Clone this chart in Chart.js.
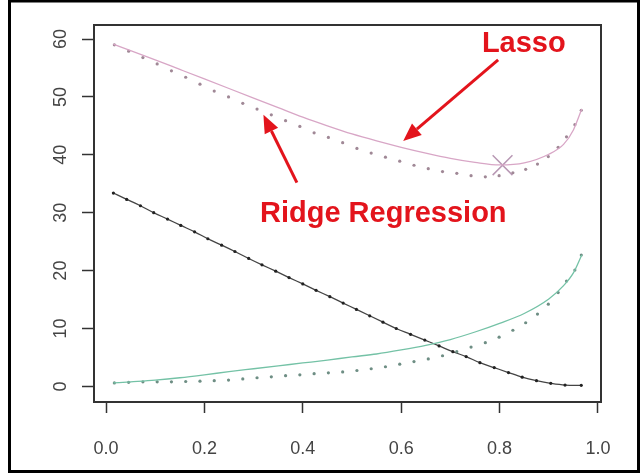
<!DOCTYPE html>
<html lang="en">
<head>
    <meta charset="UTF-8">
    <title>Lasso vs Ridge</title>
    <script src="https://cdn.jsdelivr.net/npm/chart.js"></script>
    <style>
        html, body { margin: 0; padding: 0; background: #fff; }
        #wrap { width: 640px; height: 473px; }
    </style>
</head>
<body>
    <div id="wrap"><canvas id="chart" width="640" height="473"></canvas></div>

    <script>
        // x = R^2 on training data
        const ridgeX = [0.017, 0.046, 0.075, 0.104, 0.133, 0.162, 0.191, 0.220, 0.249, 0.278, 0.307, 0.336,
                        0.365, 0.394, 0.423, 0.452, 0.481, 0.510, 0.539, 0.568, 0.597, 0.626, 0.655, 0.684,
                        0.713, 0.742, 0.771, 0.799, 0.827, 0.853, 0.877, 0.899, 0.919, 0.936, 0.953, 0.966];
        const ridgeMse = [59.0, 57.9, 56.8, 55.7, 54.5, 53.4, 52.2, 51.0, 50.0, 48.9, 47.9, 46.9,
                          45.9, 44.9, 43.8, 43.0, 42.1, 41.1, 40.3, 39.6, 38.9, 38.2, 37.6, 37.1,
                          36.8, 36.4, 36.2, 36.4, 36.9, 37.5, 38.4, 39.7, 41.3, 43.1, 45.2, 47.7];
        const ridgeVar = [0.6, 0.7, 0.8, 0.8, 0.8, 0.85, 0.9, 1.0, 1.1, 1.3, 1.5, 1.65,
                          1.85, 2.0, 2.2, 2.35, 2.5, 2.75, 3.05, 3.4, 3.85, 4.3, 4.75, 5.3,
                          6.0, 6.8, 7.55, 8.5, 9.7, 11.0, 12.5, 14.2, 16.2, 18.2, 20.1, 22.7];

        const biasX = [0.015, 0.042, 0.070, 0.097, 0.125, 0.152, 0.180, 0.207, 0.235, 0.262, 0.290, 0.317,
                       0.345, 0.372, 0.400, 0.427, 0.455, 0.482, 0.509, 0.536, 0.563, 0.590, 0.619, 0.648,
                       0.677, 0.705, 0.732, 0.760, 0.789, 0.818, 0.846, 0.875, 0.904, 0.933, 0.966];
        const bias = [33.4, 32.3, 31.2, 30.0, 28.9, 27.8, 26.7, 25.5, 24.4, 23.3, 22.1, 21.0,
                      19.9, 18.8, 17.7, 16.6, 15.5, 14.4, 13.3, 12.2, 11.1, 10.0, 9.0, 8.0,
                      7.0, 6.0, 5.15, 4.1, 3.25, 2.4, 1.6, 1.0, 0.54, 0.24, 0.19];

        const lassoX = [0.015, 0.05, 0.1, 0.15, 0.2, 0.25, 0.3, 0.35, 0.4, 0.45, 0.5, 0.55,
                        0.6, 0.65, 0.7, 0.75, 0.8, 0.85, 0.9, 0.93, 0.95, 0.967];
        const lassoMse = [59.1, 58.0, 56.4, 54.75, 53.1, 51.45, 49.8, 48.15, 46.5, 45.0, 43.6, 42.4,
                          41.3, 40.3, 39.4, 38.7, 38.25, 38.6, 40.1, 41.8, 44.3, 47.9];
        const lassoVar = [0.6, 0.8, 1.1, 1.5, 2.0, 2.55, 3.05, 3.55, 4.05, 4.55, 5.1, 5.6,
                          6.3, 7.1, 8.1, 9.4, 10.9, 12.6, 15.1, 17.4, 19.6, 22.7];

        const minMse = [0.806, 38.2];

        const xTicks = [0.0, 0.2, 0.4, 0.6, 0.8, 1.0];
        const yTicks = [0, 10, 20, 30, 40, 50, 60];

        const pts = (xs, ys) => xs.map((v, i) => ({ x: v, y: ys[i] }));

        // red notes and arrows, in data units
        const notes = [
            { text: 'Lasso', x: 0.764, y: 57.8 },
            { text: 'Ridge Regression', x: 0.313, y: 28.4 }
        ];
        const arrows = [
            [0.797, 56.4, 0.604, 42.4],
            [0.388, 35.2, 0.320, 46.9]
        ];

        const decor = {
            id: 'decor',
            afterDraw(chart) {
                const { ctx, chartArea: a, scales: { x, y } } = chart;
                ctx.save();
                // plot box
                ctx.strokeStyle = '#333';
                ctx.lineWidth = 2;
                ctx.strokeRect(a.left, a.top, a.right - a.left, a.bottom - a.top);
                // outer frame
                ctx.strokeStyle = '#000';
                ctx.lineWidth = 3;
                ctx.strokeRect(9.5, 1, 629, 470.5);

                ctx.strokeStyle = '#e3141c';
                ctx.fillStyle = '#e3141c';
                ctx.lineWidth = 3;
                arrows.forEach(([x0, y0, x1, y1]) => {
                    const px0 = x.getPixelForValue(x0), py0 = y.getPixelForValue(y0);
                    const px1 = x.getPixelForValue(x1), py1 = y.getPixelForValue(y1);
                    const ang = Math.atan2(py1 - py0, px1 - px0);
                    const len = 18, half = 7.5;
                    const bx = px1 - len * Math.cos(ang), by = py1 - len * Math.sin(ang);
                    ctx.beginPath();
                    ctx.moveTo(px0, py0);
                    ctx.lineTo(bx, by);
                    ctx.stroke();
                    ctx.beginPath();
                    ctx.moveTo(px1, py1);
                    ctx.lineTo(bx + half * Math.sin(ang), by - half * Math.cos(ang));
                    ctx.lineTo(bx - half * Math.sin(ang), by + half * Math.cos(ang));
                    ctx.closePath();
                    ctx.fill();
                });

                ctx.font = 'bold 29px "Liberation Sans", Arial, sans-serif';
                ctx.textAlign = 'left';
                ctx.textBaseline = 'alphabetic';
                notes.forEach(n => ctx.fillText(n.text, x.getPixelForValue(n.x), y.getPixelForValue(n.y)));
                ctx.restore();
            }
        };

        new Chart(document.getElementById('chart'), {
            type: 'scatter',
            data: {
                datasets: [
                    {
                        label: 'Lasso MSE',
                        data: pts(lassoX, lassoMse),
                        showLine: true,
                        borderColor: '#d8a6c6',
                        borderWidth: 1.3,
                        pointRadius: 0,
                        cubicInterpolationMode: 'monotone'
                    },
                    {
                        label: 'Ridge MSE',
                        data: pts(ridgeX, ridgeMse),
                        showLine: false,
                        pointRadius: 1.6,
                        pointBorderWidth: 0,
                        pointBackgroundColor: '#a08896'
                    },
                    {
                        label: 'Lasso variance',
                        data: pts(lassoX, lassoVar),
                        showLine: true,
                        borderColor: '#74c2a6',
                        borderWidth: 1.3,
                        pointRadius: 0,
                        cubicInterpolationMode: 'monotone'
                    },
                    {
                        label: 'Ridge variance',
                        data: pts(ridgeX, ridgeVar),
                        showLine: false,
                        pointRadius: 1.6,
                        pointBorderWidth: 0,
                        pointBackgroundColor: '#6e8e84'
                    },
                    {
                        label: 'Squared bias',
                        data: pts(biasX, bias),
                        showLine: true,
                        borderColor: '#444',
                        borderWidth: 1.3,
                        pointRadius: 1.6,
                        pointBorderWidth: 0,
                        pointBackgroundColor: '#222',
                        cubicInterpolationMode: 'monotone'
                    },
                    {
                        label: 'Min',
                        data: [{ x: minMse[0], y: minMse[1] }],
                        pointStyle: 'crossRot',
                        pointRadius: 14,
                        pointBorderWidth: 1.5,
                        pointBorderColor: '#b898b4'
                    }
                ]
            },
            options: {
                responsive: false,
                animation: false,
                layout: { padding: { left: 0, top: 25, right: 39, bottom: 0 } },
                plugins: {
                    legend: { display: false },
                    tooltip: { enabled: false }
                },
                scales: {
                    x: {
                        type: 'linear',
                        min: -0.0244,
                        max: 1.0061,
                        afterBuildTicks: s => { s.ticks = xTicks.map(v => ({ value: v })); },
                        afterFit: s => { s.height = 71; },
                        border: { display: false },
                        grid: { drawOnChartArea: false, drawTicks: true, tickLength: 11, tickColor: '#333', tickWidth: 1.5 },
                        ticks: {
                            padding: 25,
                            color: '#444',
                            font: { family: '"Liberation Sans", Arial', size: 18 },
                            callback: v => v.toFixed(1)
                        }
                    },
                    y: {
                        min: -2.69,
                        max: 62.42,
                        afterBuildTicks: s => { s.ticks = yTicks.map(v => ({ value: v })); },
                        afterFit: s => { s.width = 94; },
                        border: { display: false },
                        grid: { drawOnChartArea: false, drawTicks: true, tickLength: 12, tickColor: '#333', tickWidth: 1.5 },
                        ticks: {
                            padding: 11,
                            minRotation: 90,
                            maxRotation: 90,
                            crossAlign: 'center',
                            color: '#444',
                            font: { family: '"Liberation Sans", Arial', size: 18 },
                            callback: v => String(v)
                        }
                    }
                }
            },
            plugins: [decor]
        });
    </script>
</body>
</html>
